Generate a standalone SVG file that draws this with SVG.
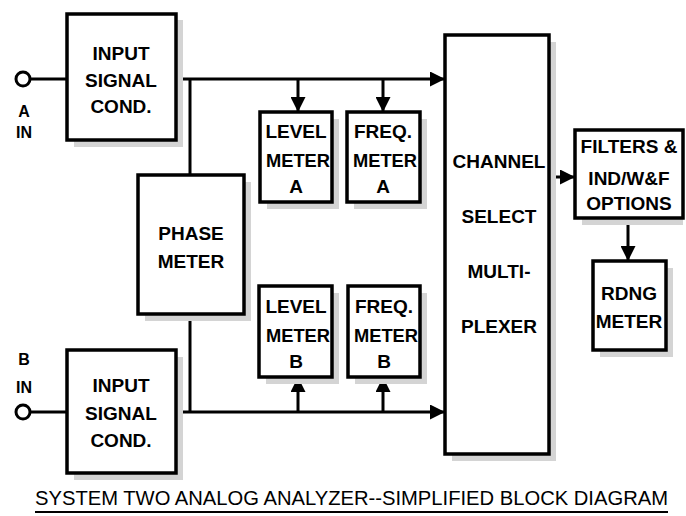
<svg xmlns="http://www.w3.org/2000/svg" width="686" height="516" viewBox="0 0 686 516">
<style>
.box{fill:#fff;stroke:#000;stroke-width:3.5}
.sh{fill:#d4d4d4}
.t{font-family:"Liberation Sans",Arial,sans-serif;font-weight:bold;font-size:19px;text-anchor:middle;fill:#000}
.s{font-size:16px}
.ln{stroke:#000;stroke-width:3;fill:none}
.title{font-family:"Liberation Sans",Arial,sans-serif;font-size:19.5px;fill:#000}
</style>
<defs>
<marker id="ah" viewBox="0 0 10 10" refX="10" refY="5" markerWidth="5" markerHeight="5" orient="auto" markerUnits="strokeWidth">
<path d="M0,0 L10,5 L0,10 Z" fill="#000"/>
</marker>
</defs>
<rect width="686" height="516" fill="#fff"/>
<g id="connectors">
<line class="ln" x1="31" y1="79" x2="67" y2="79"/>
<line class="ln" x1="176" y1="79" x2="445" y2="79" marker-end="url(#ah)"/>
<line class="ln" x1="190" y1="79" x2="190" y2="175"/>
<line class="ln" x1="298" y1="79" x2="298" y2="112" marker-end="url(#ah)"/>
<line class="ln" x1="383" y1="79" x2="383" y2="112" marker-end="url(#ah)"/>
<line class="ln" x1="31" y1="412" x2="67" y2="412"/>
<line class="ln" x1="176" y1="412" x2="445" y2="412" marker-end="url(#ah)"/>
<line class="ln" x1="190" y1="314" x2="190" y2="412"/>
<line class="ln" x1="298" y1="412" x2="298" y2="377" marker-end="url(#ah)"/>
<line class="ln" x1="383" y1="412" x2="383" y2="377" marker-end="url(#ah)"/>
<line class="ln" x1="549" y1="177" x2="575" y2="177" marker-end="url(#ah)"/>
<line class="ln" x1="628" y1="218" x2="628" y2="261" marker-end="url(#ah)"/>
</g>
<g id="inA">
<circle cx="23" cy="79" r="7" fill="#fff" stroke="#000" stroke-width="3"/>
<text class="t s" x="24" y="117">A</text>
<text class="t s" x="24" y="138">IN</text>
</g>
<g id="inB">
<circle cx="23" cy="412" r="7" fill="#fff" stroke="#000" stroke-width="3"/>
<text class="t s" x="24" y="365">B</text>
<text class="t s" x="24" y="393">IN</text>
</g>
<g id="inputA">
<rect class="sh" x="74" y="20" width="109" height="127"/>
<rect class="box" x="67" y="14" width="109" height="126"/>
<text class="t" x="121" y="60">INPUT</text>
<text class="t" x="121" y="87">SIGNAL</text>
<text class="t" x="121" y="113">COND.</text>
</g>
<g id="inputB">
<rect class="sh" x="74" y="357" width="109" height="123"/>
<rect class="box" x="67" y="350" width="109" height="123"/>
<text class="t" x="121" y="392">INPUT</text>
<text class="t" x="121" y="420">SIGNAL</text>
<text class="t" x="121" y="447">COND.</text>
</g>
<g id="phase">
<rect class="sh" x="145" y="182" width="106" height="139"/>
<rect class="box" x="138" y="175" width="106" height="139"/>
<text class="t" x="191" y="240">PHASE</text>
<text class="t" x="191" y="268">METER</text>
</g>
<g id="levelA">
<rect class="sh" x="267" y="119" width="72" height="90"/>
<rect class="box" x="260" y="112" width="72" height="90"/>
<text class="t" x="296" y="138">LEVEL</text>
<text class="t" x="298" y="167" textLength="64" lengthAdjust="spacingAndGlyphs">METER</text>
<text class="t" x="296" y="193">A</text>
</g>
<g id="freqA">
<rect class="sh" x="354" y="119" width="73" height="90"/>
<rect class="box" x="347" y="112" width="73" height="90"/>
<text class="t" x="383" y="138">FREQ.</text>
<text class="t" x="385" y="167" textLength="64" lengthAdjust="spacingAndGlyphs">METER</text>
<text class="t" x="383" y="193">A</text>
</g>
<g id="levelB">
<rect class="sh" x="266" y="293" width="73" height="91"/>
<rect class="box" x="259" y="286" width="73" height="91"/>
<text class="t" x="296" y="313">LEVEL</text>
<text class="t" x="298" y="342" textLength="64" lengthAdjust="spacingAndGlyphs">METER</text>
<text class="t" x="296" y="368">B</text>
</g>
<g id="freqB">
<rect class="sh" x="355" y="293" width="72" height="91"/>
<rect class="box" x="348" y="286" width="72" height="91"/>
<text class="t" x="384" y="313">FREQ.</text>
<text class="t" x="386" y="342" textLength="64" lengthAdjust="spacingAndGlyphs">METER</text>
<text class="t" x="384" y="368">B</text>
</g>
<g id="channel">
<rect class="sh" x="452" y="42" width="104" height="419"/>
<rect class="box" x="445" y="35" width="104" height="419"/>
<text class="t" x="499" y="168">CHANNEL</text>
<text class="t" x="499" y="223">SELECT</text>
<text class="t" x="499" y="278">MULTI-</text>
<text class="t" x="499" y="333">PLEXER</text>
</g>
<g id="filters">
<rect class="sh" x="582" y="137" width="101" height="88"/>
<rect class="box" x="575" y="130" width="108" height="88"/>
<text class="t" x="629" y="153">FILTERS &amp;</text>
<text class="t" x="629" y="185">IND/W&amp;F</text>
<text class="t" x="629" y="210">OPTIONS</text>
</g>
<g id="rdng">
<rect class="sh" x="600" y="268" width="73" height="89"/>
<rect class="box" x="593" y="261" width="73" height="89"/>
<text class="t" x="629" y="300">RDNG</text>
<text class="t" x="629" y="328">METER</text>
</g>
<g id="caption">
<text class="title" x="35" y="505" textLength="633" lengthAdjust="spacingAndGlyphs">SYSTEM TWO ANALOG ANALYZER--SIMPLIFIED BLOCK DIAGRAM</text>
<line x1="35" y1="512" x2="668" y2="512" stroke="#000" stroke-width="2"/>
</g>
</svg>
